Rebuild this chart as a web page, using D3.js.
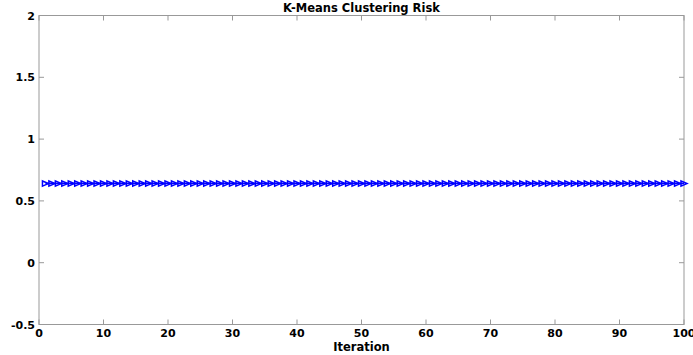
<!DOCTYPE html>
<html>
<head>
<meta charset="utf-8">
<script src="https://cdn.jsdelivr.net/npm/d3@7"></script>
<style>
  body { margin: 0; background: #fff; }
  text { font-family: "DejaVu Sans", "Liberation Sans", Arial, sans-serif; font-weight: bold; }
</style>
</head>
<body>
<svg id="chart" width="693" height="355"></svg>
<script>
// risk value per iteration (flat across the run)
var iterations = d3.range(1, 101);
var risk = [
  0.64, 0.64, 0.64, 0.64, 0.64, 0.64, 0.64, 0.64, 0.64, 0.64,
  0.64, 0.64, 0.64, 0.64, 0.64, 0.64, 0.64, 0.64, 0.64, 0.64,
  0.64, 0.64, 0.64, 0.64, 0.64, 0.64, 0.64, 0.64, 0.64, 0.64,
  0.64, 0.64, 0.64, 0.64, 0.64, 0.64, 0.64, 0.64, 0.64, 0.64,
  0.64, 0.64, 0.64, 0.64, 0.64, 0.64, 0.64, 0.64, 0.64, 0.64,
  0.64, 0.64, 0.64, 0.64, 0.64, 0.64, 0.64, 0.64, 0.64, 0.64,
  0.64, 0.64, 0.64, 0.64, 0.64, 0.64, 0.64, 0.64, 0.64, 0.64,
  0.64, 0.64, 0.64, 0.64, 0.64, 0.64, 0.64, 0.64, 0.64, 0.64,
  0.64, 0.64, 0.64, 0.64, 0.64, 0.64, 0.64, 0.64, 0.64, 0.64,
  0.64, 0.64, 0.64, 0.64, 0.64, 0.64, 0.64, 0.64, 0.64, 0.64
];
var xTicks = [0, 10, 20, 30, 40, 50, 60, 70, 80, 90, 100];
var yTicks = [-0.5, 0, 0.5, 1, 1.5, 2];

var svg = d3.select("#chart");
var pl = 39, pr = 684, pt = 15.5, pb = 324.5;

var x = d3.scaleLinear().domain([0, 100]).range([pl, pr]);
var y = d3.scaleLinear().domain([-0.5, 2]).range([pb, pt]);

var axisColor = "#999";

// frame
svg.append("rect")
  .attr("x", pl).attr("y", pt)
  .attr("width", pr - pl).attr("height", pb - pt)
  .attr("fill", "none").attr("stroke", axisColor).attr("stroke-width", 1);

// inward ticks on all four sides
var tl = 5;
var g = svg.append("g").attr("stroke", axisColor).attr("stroke-width", 1);
xTicks.forEach(function (t) {
  g.append("line").attr("x1", x(t)).attr("x2", x(t)).attr("y1", pb).attr("y2", pb - tl);
  g.append("line").attr("x1", x(t)).attr("x2", x(t)).attr("y1", pt).attr("y2", pt + tl);
});
yTicks.forEach(function (t) {
  g.append("line").attr("x1", pl).attr("x2", pl + tl).attr("y1", y(t)).attr("y2", y(t));
  g.append("line").attr("x1", pr).attr("x2", pr - tl).attr("y1", y(t)).attr("y2", y(t));
});

// tick labels
svg.selectAll(".xl").data(xTicks).enter().append("text")
  .attr("x", function (d) { return x(d); })
  .attr("y", 337)
  .attr("text-anchor", "middle")
  .attr("font-size", 11)
  .text(function (d) { return d; });

svg.selectAll(".yl").data(yTicks).enter().append("text")
  .attr("x", pl - 4)
  .attr("y", function (d) { return y(d) + 4; })
  .attr("text-anchor", "end")
  .attr("font-size", 11)
  .text(function (d) { return d; });

// labels
svg.append("text").attr("x", (pl + pr) / 2).attr("y", 12)
  .attr("text-anchor", "middle").attr("font-size", 11.5)
  .text("K-Means Clustering Risk");
svg.append("text").attr("x", (pl + pr) / 2).attr("y", 351)
  .attr("text-anchor", "middle").attr("font-size", 11.5)
  .text("Iteration");

// series line
var line = d3.line()
  .x(function (d, i) { return x(iterations[i]); })
  .y(function (d) { return y(d); });

svg.append("path").datum(risk)
  .attr("d", line)
  .attr("fill", "none").attr("stroke", "#0000ff").attr("stroke-width", 1.5);

// right-pointing triangle markers
var sx = 3, sy = 2.6;
svg.selectAll(".mk").data(risk).enter().append("path")
  .attr("transform", function (d, i) { return "translate(" + x(iterations[i]) + "," + y(d) + ")"; })
  .attr("d", "M" + (-sx) + "," + (-sy) + "L" + sx + ",0L" + (-sx) + "," + sy + "Z")
  .attr("fill", "none").attr("stroke", "#0000ff").attr("stroke-width", 1.5);
</script>
</body>
</html>
